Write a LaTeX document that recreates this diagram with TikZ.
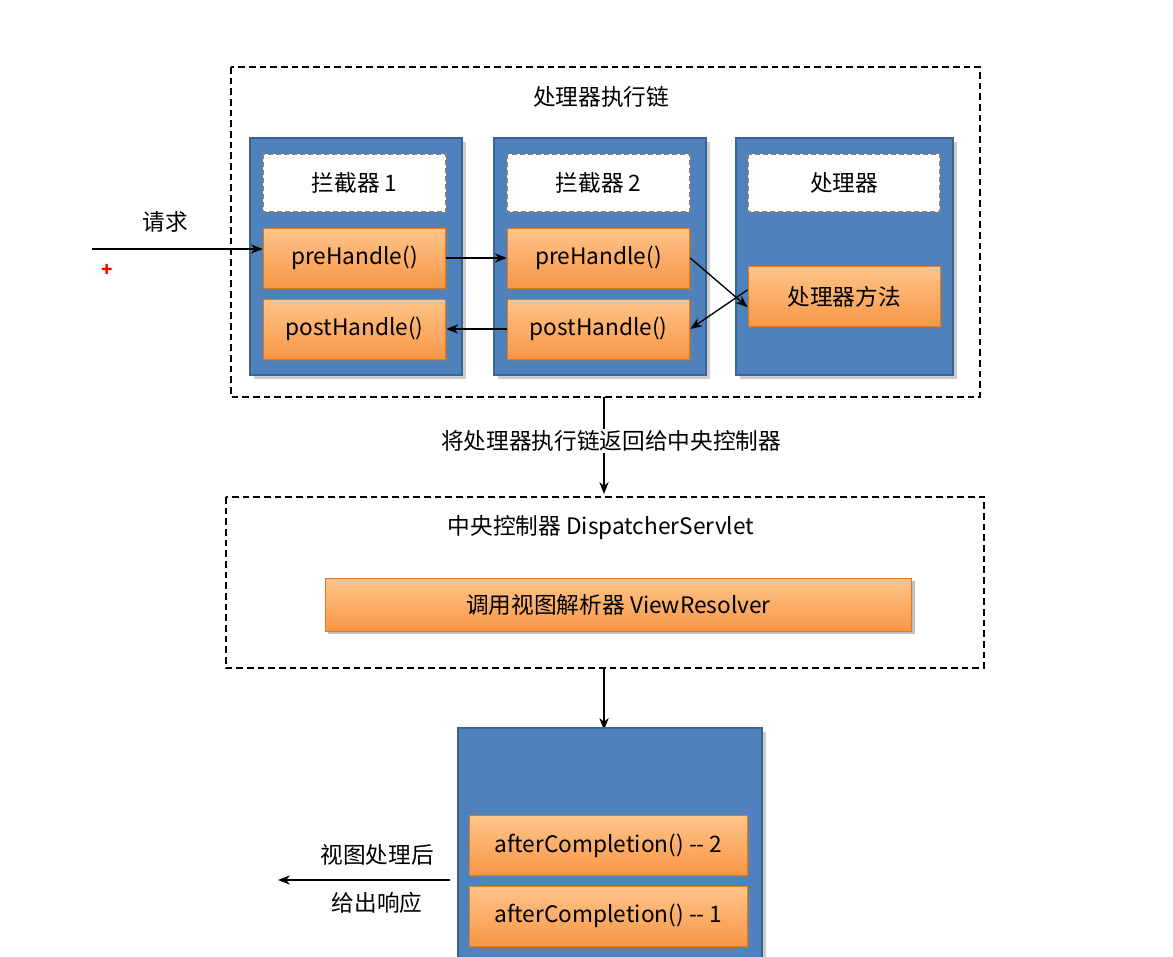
\documentclass[tikz,border=0pt]{standalone}
\usepackage{fontspec}
\setmainfont{Noto Sans CJK SC}
\usetikzlibrary{arrows.meta,shadows}
\definecolor{bl}{HTML}{4F81BD}
\definecolor{blb}{HTML}{3A6496}
\definecolor{ot}{HTML}{FFC58A}
\definecolor{ob}{HTML}{F79646}
\definecolor{obd}{HTML}{E0781E}
\begin{document}
\begin{tikzpicture}[x=0.75pt,y=-0.75pt,
 every node/.style={font=\fontsize{17}{19}\selectfont},
 dbox/.style={draw,dash pattern=on 5pt off 3pt,line width=0.8pt},
 blue/.style={draw=blb,fill=bl,line width=0.8pt,drop shadow={opacity=0.4}},
 wbox/.style={draw=gray,dash pattern=on 4pt off 2pt,fill=white,line width=0.8pt},
 obox/.style={draw=obd,top color=ot,bottom color=ob,line width=0.6pt,drop shadow={opacity=0.5,shadow xshift=2pt,shadow yshift=-2pt}},
 arr/.style={-{Stealth[length=9pt,width=7pt]},line width=1pt}]
\useasboundingbox (0,0) rectangle (1173,956);
\fill[white] (0,0) rectangle (1173,956);
\draw[dbox] (231,67) rectangle (980,397);
\node (t1) at (601,97) {处理器执行链};
\draw[blue] (250,138) rectangle (462,375);
\draw[blue] (494,138) rectangle (706,375);
\draw[blue] (736,138) rectangle (953,375);
\draw[wbox] (263,154) rectangle node (i1) {拦截器 1} (446,212);
\draw[wbox] (507,154) rectangle node (i2) {拦截器 2} (690,212);
\draw[wbox] (748,154) rectangle node (h) {处理器} (940,212);
\node[obox,minimum width=137pt,minimum height=45pt] (pre1) at (354.5,258) {preHandle()};
\node[obox,minimum width=137pt,minimum height=45pt] (post1) at (354.5,329) {postHandle()};
\node[obox,minimum width=137pt,minimum height=45pt] (pre2) at (598.5,258) {preHandle()};
\node[obox,minimum width=137pt,minimum height=45pt] (post2) at (598.5,329) {postHandle()};
\node[obox,minimum width=144pt,minimum height=45pt] (hm) at (844,296.5) {处理器方法};
\coordinate (in) at (92,249);
\draw[arr] (in) -- (pre1.west|-in);
\node (req) at (165,222) {请求};
\node[text=red,font=\bfseries\fontsize{14}{14}\selectfont] (plus) at (107,270) {+};
\draw[arr] (pre1.east) -- (pre2.west);
\draw[arr] (pre2.east) -- ([yshift=-8pt]hm.west);
\draw[arr] ([yshift=5pt]hm.west) -- (post2.east);
\draw[arr] (post2.west) -- (post1.east);
\coordinate (c1) at (604,397);
\coordinate (c2) at (604,494);
\draw[arr] (c1) -- (c2);
\node[fill=white,inner sep=1pt] (l1) at (611,441) {将处理器执行链返回给中央控制器};
\draw[dbox] (226,497) rectangle (984,668);
\node (t2) at (601,528) {中央控制器 DispatcherServlet};
\node[obox,minimum width=440pt,minimum height=40pt] (vr) at (618.5,605) {调用视图解析器 ViewResolver};
\coordinate (c3) at (604,668);
\coordinate (c4) at (604,730);
\draw[arr] (c3) -- (c4);
\draw[blue] (458,728) rectangle (762,960);
\node[obox,minimum width=208pt,minimum height=45pt] (ac2) at (608.5,845.5) {afterCompletion() {-}{-} 2};
\node[obox,minimum width=208pt,minimum height=45pt] (ac1) at (608.5,916) {afterCompletion() {-}{-} 1};
\coordinate (o1) at (450,880);
\coordinate (o2) at (278,880);
\draw[arr] (o1) -- (o2);
\node (r1) at (377,855) {视图处理后};
\node (r2) at (377,903) {给出响应};
\end{tikzpicture}
\end{document}
